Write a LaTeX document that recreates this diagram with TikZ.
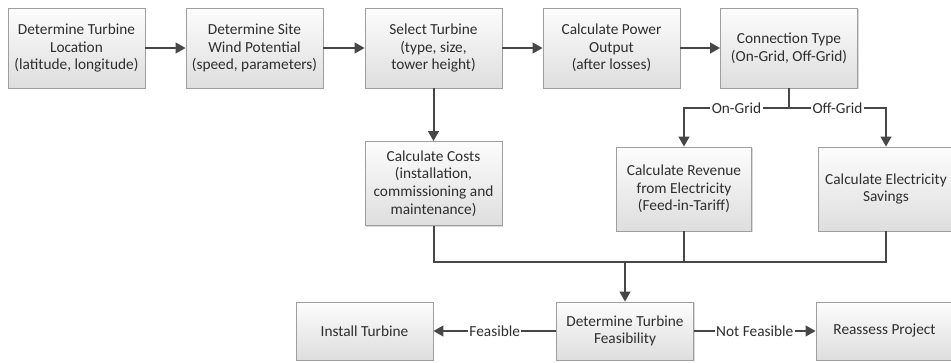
\documentclass[tikz,border=0pt]{standalone}
\usepackage{fontspec}
\setmainfont{Carlito}
\usetikzlibrary{arrows.meta,shadows}
\begin{document}
\begin{tikzpicture}[x=0.75pt,y=-0.75pt,
  txt/.style={font=\fontsize{11.5}{13.2}\selectfont, text=black!82},
  box/.style={txt, draw=black!38, line width=0.6pt, top color=black!1, bottom color=black!13,
    align=center, inner sep=2pt, minimum width=102.75pt, minimum height=60pt,
    drop shadow={shadow xshift=0.9pt, shadow yshift=-0.9pt, opacity=0.25, fill=black!60}},
  plain/.style={draw=black!72, line width=1.5pt, line join=miter},
  conn/.style={plain, -{Triangle[length=7.5pt,width=8pt]}},
  lbl/.style={txt, fill=white, inner sep=1pt}]
\useasboundingbox (0,0) rectangle (951,362);
% top row
\node[box] (b1) at (76.5,48) {Determine Turbine\\Location\\(latitude, longitude)};
\node[box] (b2) at (254.5,48) {Determine Site\\Wind Potential\\(speed, parameters)};
\node[box] (b3) at (433.5,48) {Select Turbine\\(type, size,\\tower height)};
\node[box] (b4) at (611.5,48) {Calculate Power\\Output\\(after losses)};
\node[box] (b5) at (789,48) {Connection Type\\(On-Grid, Off-Grid)};
% middle row
\node[box, minimum height=63pt] (costs) at (433.5,183.5) {Calculate Costs\\(installation,\\commissioning and\\maintenance)};
\node[box, minimum height=63pt, minimum width=101.25pt] (rev) at (684,189) {Calculate Revenue\\from Electricity\\(Feed-in-Tariff)};
\node[box, minimum height=63pt, minimum width=101.25pt] (sav) at (886,189) {Calculate Electricity\\Savings};
% bottom row
\node[box, minimum height=43.5pt] (feas) at (625,331) {Determine Turbine\\Feasibility};
\node[box, minimum height=43.5pt] (inst) at (364.5,331) {Install Turbine};
\node[box, minimum height=43.5pt] (reas) at (884.5,331) {Reassess Project};
% coordinates
\coordinate (split) at (789,108);
\coordinate (lc) at (684,108);
\coordinate (rc) at (886,108);
\coordinate (m) at (625,262);
% connectors
\draw[conn] (b1) -- (b2);
\draw[conn] (b2) -- (b3);
\draw[conn] (b3) -- (b4);
\draw[conn] (b4) -- (b5);
\draw[conn] (b3) -- (costs);
\draw[conn] (b5.south) -- (split) -- node[lbl]{On-Grid} (lc) -- (rev.north);
\draw[conn] (split) -- node[lbl]{Off-Grid} (rc) -- (sav.north);
\draw[plain] (costs.south) -- (costs.south |- m) -- (sav.south |- m) -- (sav.south);
\draw[plain] (rev.south) -- (rev.south |- m);
\draw[conn] (m) -- (feas.north);
\draw[conn] (feas.west) -- node[lbl]{Feasible} (inst.east);
\draw[conn] (feas.east) -- node[lbl]{Not Feasible} (reas.west);
\end{tikzpicture}
\end{document}
